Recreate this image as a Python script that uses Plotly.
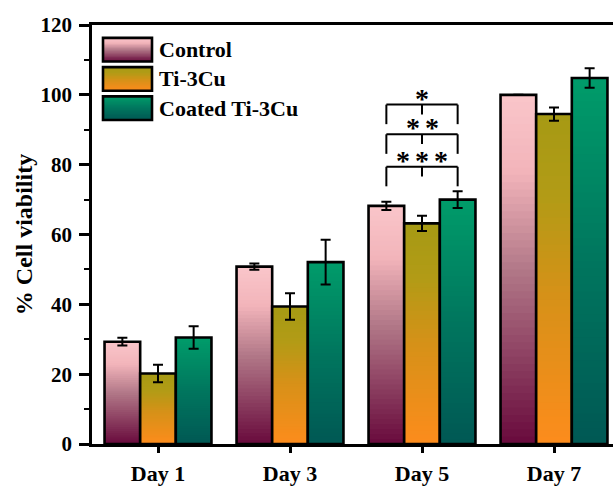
import plotly.graph_objects as go

# ---------------- data ----------------
days = ["Day 1", "Day 3", "Day 5", "Day 7"]
series_names = ["Control", "Ti-3Cu", "Coated Ti-3Cu"]
control = [29.3, 50.8, 68.2, 100.0]
control_err = [1.1, 0.9, 1.2, 0.0]
ti3cu = [20.2, 39.4, 63.2, 94.5]
ti3cu_err = [2.5, 3.8, 2.2, 1.9]
coated = [30.5, 52.1, 70.0, 104.8]
coated_err = [3.2, 6.4, 2.4, 2.8]
sig_stars = [1, 2, 3]                      # number of asterisks, Day 5
sig_levels = [97.2, 88.7, 79.4]            # bracket heights (y units)

values = [control, ti3cu, coated]
errors = [control_err, ti3cu_err, coated_err]

# gradient stops (t=0 bottom of bar, t=1 top of bar)
gradients = [
    [(0.0, (104, 10, 60)), (0.5, (178, 120, 136)), (0.78, (242, 180, 186)), (1.0, (250, 198, 202))],
    [(0.0, (253, 140, 28)), (0.45, (214, 145, 24)), (0.75, (178, 155, 22)), (1.0, (166, 154, 20))],
    [(0.0, (0, 88, 84)), (0.5, (0, 118, 94)), (1.0, (0, 156, 106))],
]


def interp(stops, t):
    for (t0, c0), (t1, c1) in zip(stops[:-1], stops[1:]):
        if t0 <= t <= t1:
            f = (t - t0) / (t1 - t0) if t1 > t0 else 0
            c = [round(a + (b - a) * f) for a, b in zip(c0, c1)]
            return "rgb(%d,%d,%d)" % tuple(c)
    return "rgb(%d,%d,%d)" % stops[-1][1]


FONT = "Liberation Serif"
N = 48
xpos = list(range(len(days)))
bargap = 0.19
barw = (1 - bargap) / 3

fig = go.Figure()
for s, (vals, errs) in enumerate(zip(values, errors)):
    # overlapping slices: each slice runs from its base up to the bar top,
    # later slices cover the upper part of earlier ones -> seamless gradient
    for k in range(N):
        fig.add_trace(go.Bar(
            x=xpos, y=[v * (N - k) / N for v in vals], base=[v * k / N for v in vals],
            offsetgroup=str(s), marker=dict(color=interp(gradients[s], (k + 0.5) / N),
                                            line=dict(width=0)),
            showlegend=False, hoverinfo="skip"))
    fig.add_trace(go.Bar(
        x=xpos, y=vals, offsetgroup=str(s), name=series_names[s],
        marker=dict(color="rgba(0,0,0,0)", line=dict(color="black", width=2.6)),
        error_y=dict(type="data", array=errs, visible=True, color="black",
                     thickness=2, width=5),
        showlegend=False))

# significance brackets on Day 5
d5 = 2
xl = d5 - barw
xm = d5
xr = d5 + barw
shapes = []
annotations = []
for n, lev in zip(sig_stars, sig_levels):
    for (a0, a1, b0, b1) in [(xl, xr, lev, lev), (xl, xl, lev, lev - 5.6),
                             (xr, xr, lev, lev - 5.6), (xm, xm, lev, lev - 2.8)]:
        shapes.append(dict(type="line", xref="x", yref="y", x0=a0, x1=a1, y0=b0, y1=b1,
                           line=dict(color="black", width=2)))
    for i in range(n):
        annotations.append(dict(x=xm, y=lev, xref="x", yref="y", text="*", showarrow=False,
                                yanchor="bottom", yshift=-11, xshift=(i - (n - 1) / 2) * 19,
                                font=dict(family=FONT, size=28, color="black", weight="bold")))

# custom legend (paper coords derived from pixels)
L, T, W, H = 92, 25, 613, 486
B = 449
PW = W - L
PH = B - T


def px2x(px):
    return (px - L) / PW


def px2y(py):
    return (B - py) / PH


leg_centers = [50, 79.6, 109.2]
for s, cy in enumerate(leg_centers):
    top, bot = cy - 12, cy + 12
    nstrip = 16
    for k in range(nstrip):
        y0 = bot - (bot - top) * k / nstrip
        shapes.append(dict(type="rect", xref="paper", yref="paper",
                           x0=px2x(103), x1=px2x(152), y0=px2y(y0), y1=px2y(top),
                           fillcolor=interp(gradients[s], (k + 0.5) / nstrip),
                           line=dict(width=0), layer="above"))
    shapes.append(dict(type="rect", xref="paper", yref="paper",
                       x0=px2x(103), x1=px2x(152), y0=px2y(bot), y1=px2y(top),
                       line=dict(color="black", width=2.6), layer="above"))
    annotations.append(dict(x=px2x(157), y=px2y(cy), xref="paper", yref="paper",
                            text=series_names[s], showarrow=False, xanchor="left",
                            yanchor="middle",
                            font=dict(family=FONT, size=22, color="black", weight="bold")))

fig.update_layout(
    width=W, height=H,
    margin=dict(l=L, r=0, t=T, b=H - B, pad=0),
    paper_bgcolor="white", plot_bgcolor="white",
    barmode="group", bargap=bargap, bargroupgap=0,
    showlegend=False,
    shapes=shapes, annotations=annotations,
    font=dict(family=FONT, color="black"),
)
fig.update_xaxes(
    range=[-0.5, -0.5 + PW / 132.0],
    tickvals=xpos, ticktext=days,
    showline=True, linecolor="black", linewidth=2.6, mirror=True,
    ticks="outside", ticklen=6, tickwidth=2.6, tickcolor="black",
    showgrid=False, zeroline=False,
    ticklabelstandoff=2,
    tickfont=dict(family=FONT, size=22, color="black", weight="bold"),
)
fig.update_yaxes(
    range=[0, 120], dtick=20, tick0=0,
    showline=True, linecolor="black", linewidth=2.6, mirror=False,
    ticks="outside", ticklen=10, tickwidth=2.6, tickcolor="black",
    minor=dict(dtick=10, ticks="outside", ticklen=5, tickwidth=2, tickcolor="black"),
    showgrid=False, zeroline=False,
    ticklabelstandoff=3,
    tickfont=dict(family=FONT, size=21, color="black", weight="bold"),
    title=dict(text="% Cell viability", standoff=2,
               font=dict(family=FONT, size=24, color="black", weight="bold")),
)

fig.write_html(
    "out.html",
    config={"displayModeBar": False},
    post_script="document.body.style.margin='0';document.body.style.overflow='hidden';",
)
